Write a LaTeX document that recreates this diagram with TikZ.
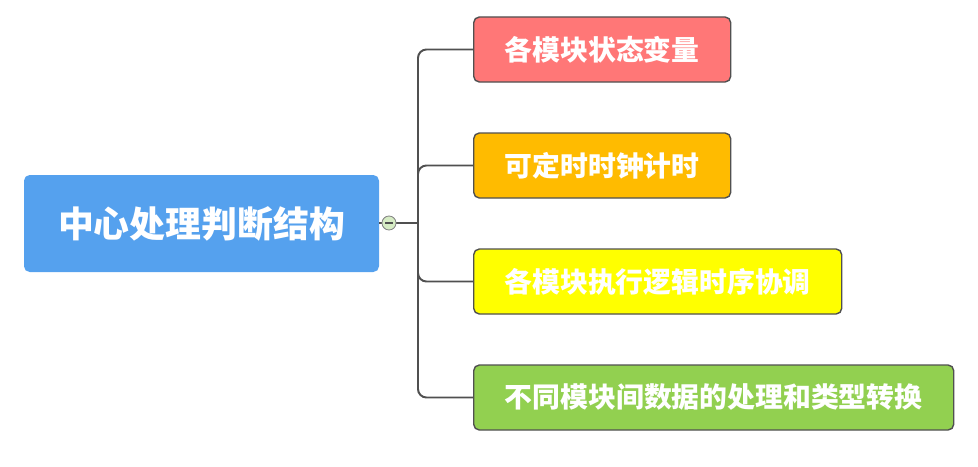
\documentclass[tikz,border=0pt]{standalone}
\usepackage{fontspec}
\newfontfamily\cjk{Noto Sans CJK SC}
\usetikzlibrary{positioning}
\definecolor{mmblue}{RGB}{85,161,238}
\definecolor{mmred}{RGB}{255,119,119}
\definecolor{mmorange}{RGB}{255,187,0}
\definecolor{mmyellow}{RGB}{255,255,0}
\definecolor{mmgreen}{RGB}{146,208,80}
\definecolor{mmline}{RGB}{80,80,80}
\definecolor{mmknob}{RGB}{214,236,196}

\begin{document}
\begin{tikzpicture}[
      rootbox/.style={rounded corners=4pt, minimum width=8.875cm, minimum height=2.425cm, text=white, font=\cjk\bfseries\fontsize{25.5}{28}\selectfont},
      topic/.style={anchor=west, rounded corners=4pt, draw=mmline, line width=1pt, minimum height=1.625cm, text=white, font=\cjk\bfseries\fontsize{19.8}{22}\selectfont},
      link/.style={draw=mmline, line width=1.4pt, rounded corners=6pt}
    ]
      \useasboundingbox (0,0) rectangle (24.45,11.65);

      \node[rootbox, fill=mmblue] (root) at (5.0375, 6.0625) {中心处理判断结构};

      \node[topic, fill=mmred, minimum width=6.425cm] (vars) at (11.825, 10.4125) {各模块状态变量};
      \node[topic, fill=mmorange, minimum width=6.425cm] (timer) at (11.825, 7.5125) {可定时时钟计时};
      \node[topic, fill=mmyellow, minimum width=9.2cm] (sync) at (11.825, 4.6125) {各模块执行逻辑时序协调};
      \node[topic, fill=mmgreen, minimum width=12cm] (convert) at (11.825, 1.7125) {不同模块间数据的处理和类型转换};

      % collapse knob and branch point
      \coordinate (hub) at (10.45, 6.075);
      \draw[link] (root.east |- hub) -- (hub);
      \foreach \t in {vars, timer, sync, convert}
        \draw[link] (hub) |- (\t.west);
      \node[circle, draw=mmline!70, fill=mmknob, line width=0.6pt, minimum size=0.35cm, inner sep=0pt] (knob) at (9.725, 6.075) {};
      \draw[mmline, line width=0.8pt] ([xshift=-0.1cm]knob.center) -- ([xshift=0.1cm]knob.center);
    \end{tikzpicture}
\end{document}
